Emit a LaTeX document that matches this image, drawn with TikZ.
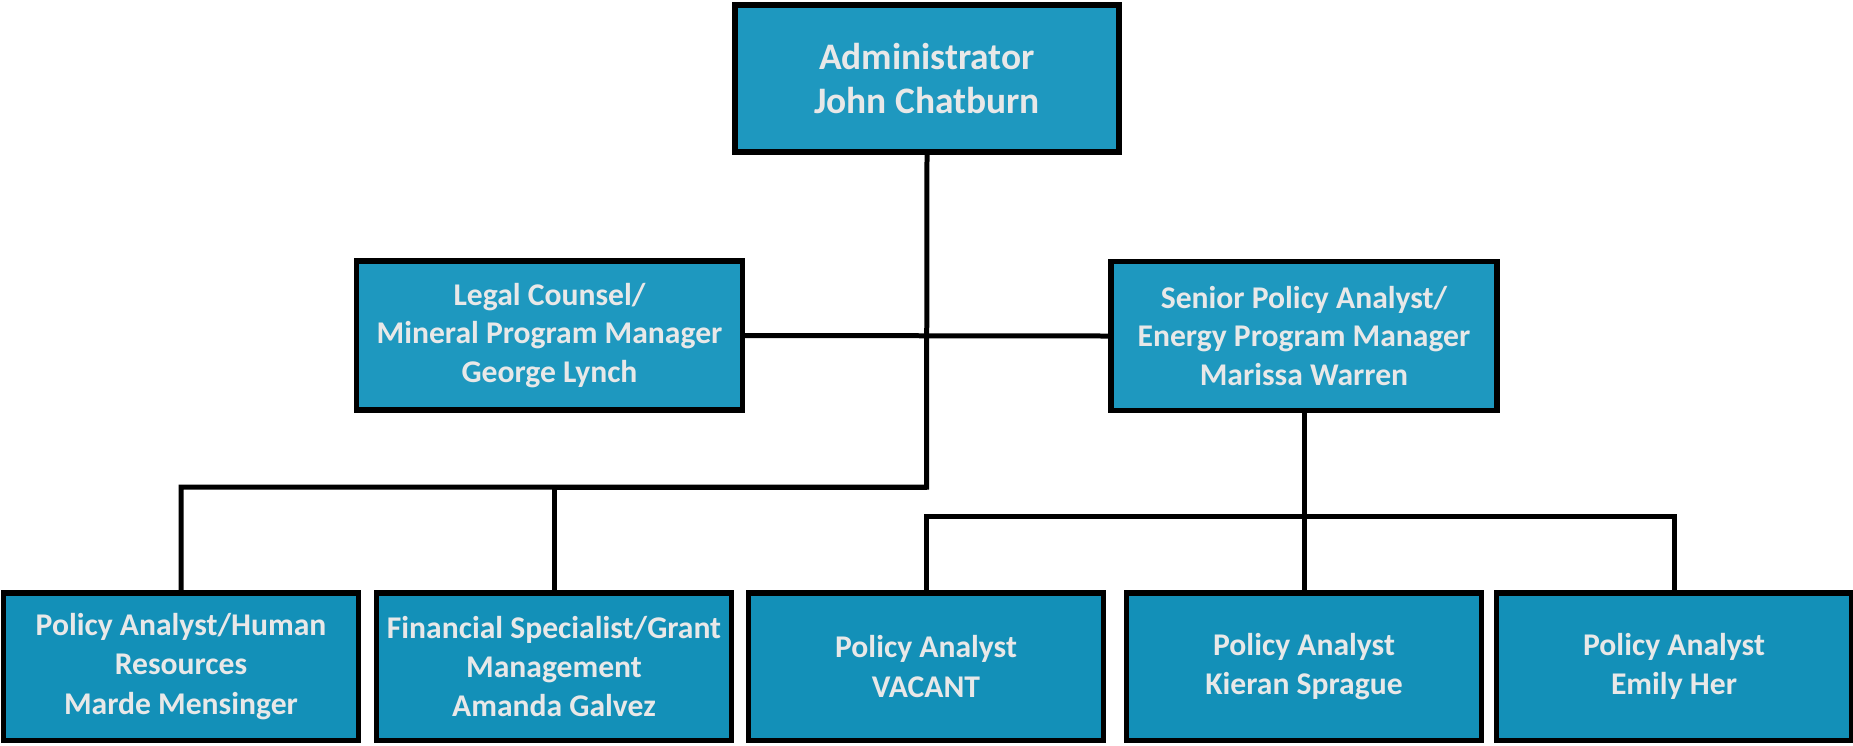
\documentclass[tikz,border=0pt]{standalone}
\usepackage{fontspec}
\setmainfont{Carlito}
\definecolor{boxtop}{HTML}{1E98BF}
\definecolor{boxlow}{HTML}{1390B8}
\definecolor{boxtext}{HTML}{E8E8E8}
\tikzset{
  post/.style={draw=black, line width=0.11cm, rectangle, align=center,
    text=boxtext, font=\bfseries, inner sep=0pt},
  chief/.style={post, fill=boxtop, minimum width=7.69cm, minimum height=2.95cm,
    font=\bfseries\fontsize{21.3}{25.5}\selectfont},
  deputy/.style={post, fill=boxtop, minimum width=7.72cm, minimum height=2.98cm,
    font=\bfseries\fontsize{18}{21.8}\selectfont},
  staff/.style={post, fill=boxlow, minimum width=7.1cm, minimum height=2.95cm,
    font=\bfseries\fontsize{18}{22.4}\selectfont},
  link/.style={draw=black, line width=0.1cm, line join=miter}
}
\begin{document}
\begin{tikzpicture}[x=0.02cm, y=-0.02cm]
      \useasboundingbox (0,0) rectangle (1853,745);
      % boxes
      \node[chief] (admin) at (927,78.5) {Administrator\\John Chatburn};
      \node[deputy] (legal) at (549.5,335.5) {Legal Counsel/\\Mineral Program Manager\\George Lynch};
      \node[deputy] (senior) at (1304,336) {Senior Policy Analyst/\\Energy Program Manager\\Marissa Warren};
      \node[staff] (hr) at (181,666.5) {Policy Analyst/Human\\Resources\\Marde Mensinger};
      \node[staff] (grant) at (554,666.5) {Financial Specialist/Grant\\Management\\Amanda Galvez};
      \node[staff] (vacant) at (926,666.5) {Policy Analyst\\VACANT};
      \node[staff] (kieran) at (1304,666.5) {Policy Analyst\\Kieran Sprague};
      \node[staff] (emily) at (1674,666.5) {Policy Analyst\\Emily Her};
      \coordinate (lbus) at (926.5,487);
      \coordinate (rbus) at (1304,516);
      % connectors
      \begin{scope}
        \draw[link] (legal.east) to (senior.west);
        \draw[link] (admin.south) -- (lbus) -| (hr.north);
        \draw[link] (lbus) -| (grant.north);
        \draw[link] (senior.south) to (kieran.north);
        \draw[link] (vacant.north) |- (rbus) -| (emily.north);
      \end{scope}
    \end{tikzpicture}
\end{document}
